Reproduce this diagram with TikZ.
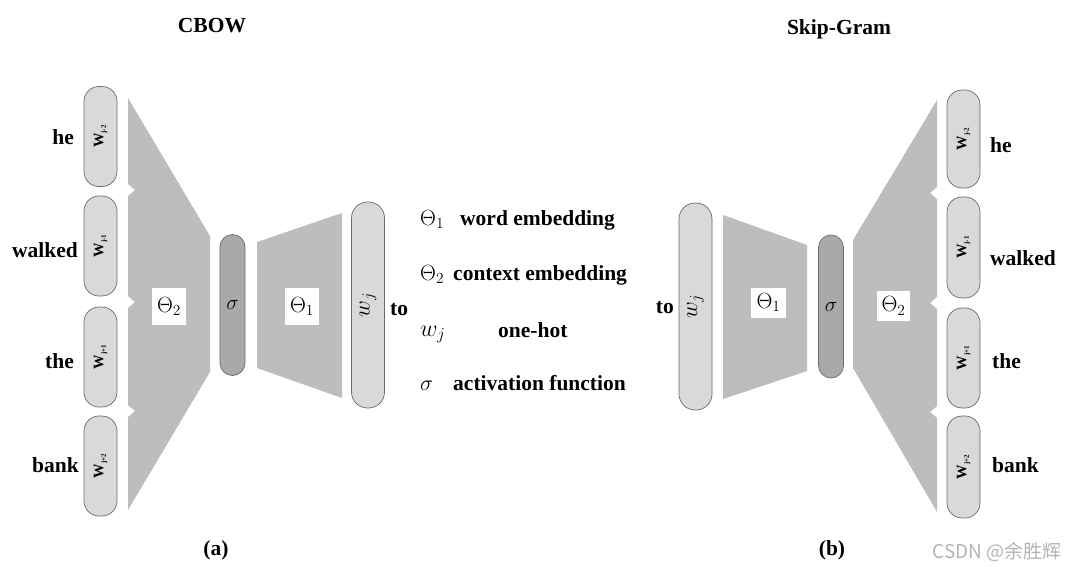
\documentclass[tikz,border=0pt]{standalone}
\usepackage{fix-cm}
\usepackage{fontspec}
\setmainfont{Liberation Serif}
\newfontfamily\cjk{Noto Sans CJK SC}
\definecolor{pillfill}{HTML}{D9D9D9}
\definecolor{trapfill}{HTML}{BDBDBD}
\definecolor{sigfill}{HTML}{A9A9A9}
\definecolor{edgec}{HTML}{6A6A6A}
\definecolor{wmark}{HTML}{B4B4B4}
\newcommand{\wsub}[1]{\rotatebox{90}{\fontsize{14.5}{14}\selectfont\textbf{W}\raisebox{-2.5pt}{\fontsize{7}{7}\selectfont\textbf{#1}}}}
\begin{document}
\begin{tikzpicture}[x=1pt,y=-1pt,
  wpill/.style={draw=edgec, fill=pillfill, rounded corners=15pt, minimum width=33pt, minimum height=100pt, inner sep=0pt, line width=0.7pt},
  bigpill/.style={draw=edgec, fill=pillfill, rounded corners=16pt, minimum width=33pt, minimum height=206pt, inner sep=0pt, line width=0.7pt},
  sigpill/.style={draw=edgec, fill=sigfill, rounded corners=12.5pt, minimum width=25pt, minimum height=141pt, inner sep=0pt, line width=0.7pt, font=\fontsize{21}{25}\selectfont},
  trap/.style={fill=trapfill},
  thbox/.style={fill=white, minimum width=34pt, minimum height=33pt, inner sep=0pt, font=\fontsize{22}{25}\selectfont},
  bold/.style={font=\fontsize{21.5}{25}\selectfont\bfseries, inner sep=0pt},
  mathlbl/.style={font=\fontsize{22}{25}\selectfont, inner sep=0pt}
]
\useasboundingbox (0,0) rectangle (1065,567);
\fill[white] (0,0) rectangle (1065,567);

% ---------------- CBOW (left) ----------------
\fill[trap] (128,98) -- (210,236) -- (210,372) -- (128,510) -- (128,417) -- (135,411) -- (128,405)
  -- (128,308) -- (135,302) -- (128,296) -- (128,196) -- (135,190) -- (128,184) -- cycle;
\fill[trap] (257,242) -- (342,213) -- (342,398) -- (257,368) -- cycle;

\node[wpill] (lp1) at (100.5,136.5) {\wsub{j-2}};
\node[wpill] (lp2) at (100.5,246) {\wsub{j-1}};
\node[wpill] (lp3) at (100.5,357) {\wsub{j+1}};
\node[wpill] (lp4) at (100.5,466) {\wsub{j+2}};

\node[bold, anchor=base east] (lhe) at (74,145) {he};
\node[bold, anchor=base east] (lwalked) at (78,257) {walked};
\node[bold, anchor=base east] (lthe) at (74,368) {the};
\node[bold, anchor=base east] (lbank) at (79,472) {bank};

\node[sigpill] (lsig) at (232.5,305) {$\sigma$};
\node[bigpill] (lwj) at (368,305) {\rotatebox{90}{\fontsize{23}{25}\selectfont$w_j$}};
\node[bold, anchor=base west] (lto) at (390,315) {to};

\node[thbox, minimum height=37pt] (lth2) at (169,306.5) {$\Theta_2$};
\node[thbox, minimum height=37pt] (lth1) at (302,306.5) {$\Theta_1$};

\node[bold, anchor=base] (tcbow) at (212,33) {CBOW};
\node[bold, anchor=base] (ta) at (216,555) {(a)};

% ---------------- legend ----------------
\node[mathlbl, anchor=base west] (g1) at (420,225) {$\Theta_1$};
\node[bold, anchor=base west] (g1t) at (460,225) {word embedding};
\node[mathlbl, anchor=base west] (g2) at (420,280) {$\Theta_2$};
\node[bold, anchor=base west] (g2t) at (453,280) {context embedding};
\node[mathlbl, anchor=base west] (g3) at (420,336) {\fontsize{24}{25}\selectfont$w_j$};
\node[bold, anchor=base west] (g3t) at (498,337) {one-hot};
\node[mathlbl, anchor=base west] (g4) at (420,390) {$\sigma$};
\node[bold, anchor=base west] (g4t) at (453,390) {activation function};

% ---------------- Skip-Gram (right) ----------------
\fill[trap] (723,215) -- (807,245) -- (807,371) -- (723,399) -- cycle;
\fill[trap] (853,240) -- (937,100) -- (937,187) -- (930,193) -- (937,199) -- (937,297) -- (930,303)
  -- (937,309) -- (937,406) -- (930,412) -- (937,418) -- (937,512) -- (853,368) -- cycle;

\node[bigpill, minimum height=207pt] (rwj) at (695.5,306.5) {\rotatebox{90}{\fontsize{23}{25}\selectfont$w_j$}};
\node[bold, anchor=base east] (rto) at (674,313) {to};
\node[sigpill, minimum height=143pt] (rsig) at (831,306.5) {$\sigma$};

\node[thbox, minimum width=35pt, minimum height=30pt] (rth1) at (768.5,302.5) {$\Theta_1$};
\node[thbox, minimum width=33pt, minimum height=30pt] (rth2) at (893.5,306) {$\Theta_2$};

\node[wpill, minimum height=98pt] (rp1) at (963.5,139) {\wsub{j-2}};
\node[wpill, minimum height=101pt] (rp2) at (963.5,247.5) {\wsub{j-1}};
\node[wpill] (rp3) at (963.5,358) {\wsub{j+1}};
\node[wpill, minimum height=102pt] (rp4) at (963.5,467) {\wsub{j+2}};

\node[bold, anchor=base west] (rhe) at (990,152) {he};
\node[bold, anchor=base west] (rwalked) at (990,265) {walked};
\node[bold, anchor=base west] (rthe) at (992,368) {the};
\node[bold, anchor=base west] (rbank) at (992,472) {bank};

\node[bold, anchor=base] (tskip) at (839,35) {Skip-Gram};
\node[bold, anchor=base] (tb) at (832,555) {(b)};

\node[anchor=base east, inner sep=0pt, text=wmark, font=\cjk\fontsize{19}{22}\selectfont] (wm) at (1062,558) {CSDN @余胜辉};
\end{tikzpicture}
\end{document}
